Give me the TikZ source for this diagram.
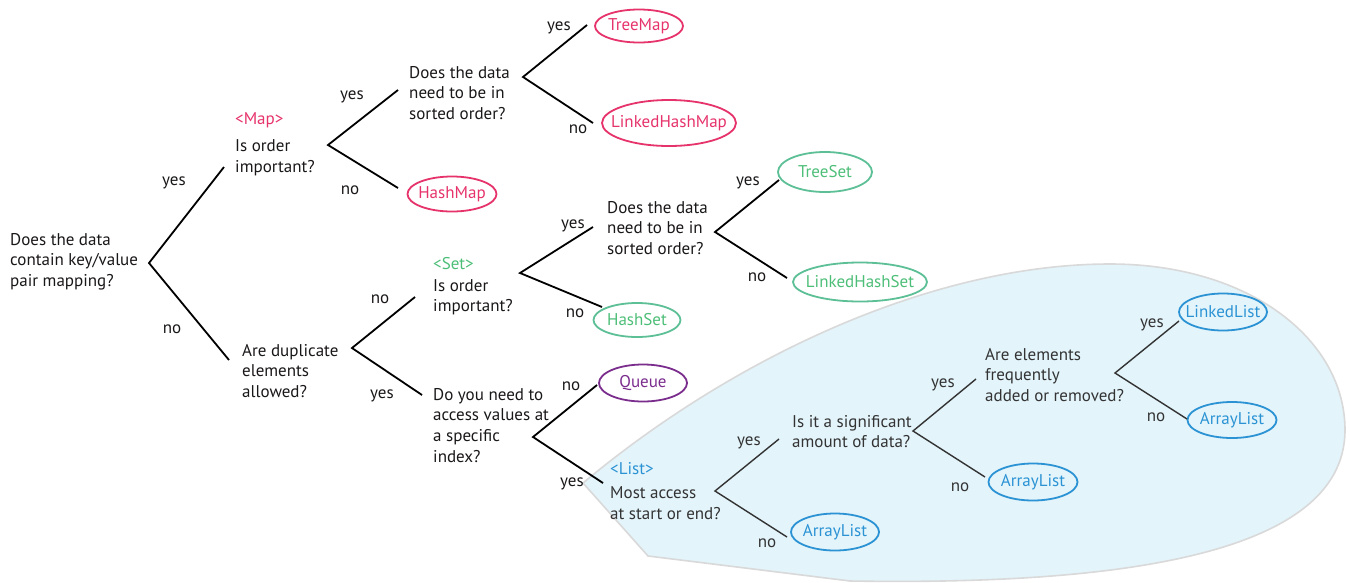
\documentclass[tikz,border=0pt]{standalone}
\usepackage{fontspec}
\setmainfont{PT Sans}
\usetikzlibrary{shapes.geometric}

\definecolor{mapred}{HTML}{E6336B}
\definecolor{setgreen}{HTML}{4DBE78}
\definecolor{setline}{HTML}{5CBF95}
\definecolor{queuepurple}{HTML}{7B2D8E}
\definecolor{listblue}{HTML}{2B93D4}
\definecolor{listbg}{HTML}{E3F4FB}
\definecolor{listedge}{HTML}{D9D9D9}
\definecolor{ink}{HTML}{1A1718}
\definecolor{listink}{HTML}{333333}

\tikzset{
  question/.style={anchor=north west, inner sep=0pt, align=left, text=ink, execute at begin node=\strut},
  answer/.style={ellipse, draw, line width=1.8pt, inner xsep=-14pt, inner ysep=0pt},
  choice/.style={anchor=base, inner sep=0pt, text=ink},
  branch/.style={line width=1.8pt, draw=black},
  listbranch/.style={line width=1.4pt, draw=listink},
}

\begin{document}
\begin{tikzpicture}[x=1pt, y=-1pt, font=\fontsize{17pt}{20.7pt}\selectfont]
\useasboundingbox (0,0) rectangle (1350,582);

% Drawing the shaded List region
\filldraw[fill=listbg, draw=listedge, line width=1.6pt]
  (583,483) .. controls (730,360) and (930,264) .. (1110,264)
  .. controls (1250,264) and (1345,340) .. (1345,430)
  .. controls (1345,560) and (1100,585) .. (850,581) -- (648,556) -- cycle;

% Questions
\node[question] (rootq) at (10,233) {Does the data\\contain key/value\\pair mapping?};
\node[question] (mapq) at (235,112) {\textcolor{mapred}{<Map>}\\[7pt]Is order\\important?};
\node[question] (sortmapq) at (409,66) {Does the data\\need to be in\\sorted order?};
\node[question] (dupq) at (242,344) {Are duplicate\\elements\\allowed?};
\node[question] (setq) at (433,257) {\textcolor{setgreen}{<Set>}\\[1pt]Is order\\important?};
\node[question] (sortsetq) at (607,201) {Does the data\\need to be in\\sorted order?};
\node[question] (idxq) at (433,388) {Do you need to\\access values at\\a specific\\index?};
\node[question, text=listink] (listq) at (610,462) {\textcolor{listblue}{<List>}\\[4pt]Most access\\at start or end?};
\node[question, text=listink] (sizeq) at (792,415) {Is it a significant\\amount of data?};
\node[question, text=listink] (modq) at (985,348) {Are elements\\frequently\\added or removed?};

% Answers
\node[answer, draw=mapred, text=mapred, minimum width=88, minimum height=33] (treemap) at (639,26) {TreeMap};
\node[answer, draw=mapred, text=mapred, minimum width=134, minimum height=46] (linkedhashmap) at (669,123) {LinkedHashMap};
\node[answer, draw=mapred, text=mapred, minimum width=89, minimum height=35] (hashmap) at (452,194) {HashMap};
\node[answer, draw=setline, text=setgreen, minimum width=94, minimum height=40] (treeset) at (825,172) {TreeSet};
\node[answer, draw=setline, text=setgreen, minimum width=134, minimum height=39] (linkedhashset) at (860,282) {LinkedHashSet};
\node[answer, draw=setline, text=setgreen, minimum width=87, minimum height=34] (hashset) at (637,320) {HashSet};
\node[answer, draw=queuepurple, text=queuepurple, minimum width=88, minimum height=37] (queue) at (643,383) {Queue};
\node[answer, draw=listblue, text=listblue, minimum width=88, minimum height=37] (arraylista) at (835,532) {ArrayList};
\node[answer, draw=listblue, text=listblue, minimum width=89, minimum height=37] (arraylistb) at (1033,482) {ArrayList};
\node[answer, draw=listblue, text=listblue, minimum width=88, minimum height=37] (linkedlist) at (1223,312) {LinkedList};
\node[answer, draw=listblue, text=listblue, minimum width=89, minimum height=36] (arraylistc) at (1232,420) {ArrayList};

% Drawing branch of rootq
\coordinate (root-v) at (149,263);
\coordinate (root-y) at (224,167);
\coordinate (root-n) at (229,360);
\draw[branch] (root-y) -- (root-v) -- (root-n);
\node[choice] (root-yes) at (174,185) {yes};
\node[choice] (root-no) at (172,333) {no};

% Drawing branch of mapq
\coordinate (map-v) at (328,145);
\coordinate (map-y) at (398,90);
\coordinate (map-n) at (398,188);
\draw[branch] (map-y) -- (map-v) -- (map-n);
\node[choice] (map-yes) at (352,99) {yes};
\node[choice] (map-no) at (350,194) {no};

% Drawing branch of sortmapq
\coordinate (sortmap-v) at (523,77);
\coordinate (sortmap-y) at (587,25);
\coordinate (sortmap-n) at (593,123);
\draw[branch] (sortmap-y) -- (sortmap-v) -- (sortmap-n);
\node[choice] (sortmap-yes) at (559,30) {yes};
\node[choice] (sortmap-no) at (578,133) {no};

% Drawing branch of dupq
\coordinate (dup-v) at (352,348);
\coordinate (dup-n) at (415,297);
\coordinate (dup-y) at (422,395);
\draw[branch] (dup-n) -- (dup-v) -- (dup-y);
\node[choice] (dup-no) at (380,303) {no};
\node[choice] (dup-yes) at (382,398) {yes};

% Drawing branch of setq
\coordinate (set-v) at (520,273);
\coordinate (set-y) at (593,227);
\coordinate (set-n) at (602,307);
\draw[branch] (set-y) -- (set-v) -- (set-n);
\node[choice] (set-yes) at (573,228) {yes};
\node[choice] (set-no) at (575,317) {no};

% Drawing branch of sortsetq
\coordinate (sortset-v) at (715,232);
\coordinate (sortset-y) at (779,180);
\coordinate (sortset-n) at (787,278);
\draw[branch] (sortset-y) -- (sortset-v) -- (sortset-n);
\node[choice] (sortset-yes) at (748,185) {yes};
\node[choice] (sortset-no) at (757,281) {no};

% Drawing branch of idxq
\coordinate (idx-v) at (533,437);
\coordinate (idx-n) at (597,385);
\coordinate (idx-y) at (603,483);
\draw[branch] (idx-n) -- (idx-v) -- (idx-y);
\node[choice] (idx-no) at (571,390) {no};
\node[choice] (idx-yes) at (572,486) {yes};

% Drawing branch of listq
\coordinate (list-v) at (715,491);
\coordinate (list-y) at (779,439);
\coordinate (list-n) at (787,537);
\draw[listbranch] (list-y) -- (list-v) -- (list-n);
\node[choice, text=listink] (list-yes) at (749,445) {yes};
\node[choice, text=listink] (list-no) at (767,547) {no};

% Drawing branch of sizeq
\coordinate (size-v) at (913,431);
\coordinate (size-y) at (976,379);
\coordinate (size-n) at (985,477);
\draw[listbranch] (size-y) -- (size-v) -- (size-n);
\node[choice, text=listink] (size-yes) at (943,387) {yes};
\node[choice, text=listink] (size-no) at (960,491) {no};

% Drawing branch of modq
\coordinate (mod-v) at (1115,373);
\coordinate (mod-y) at (1179,321);
\coordinate (mod-n) at (1187,419);
\draw[listbranch] (mod-y) -- (mod-v) -- (mod-n);
\node[choice, text=listink] (mod-yes) at (1152,327) {yes};
\node[choice, text=listink] (mod-no) at (1156,421) {no};
\end{tikzpicture}
\end{document}
